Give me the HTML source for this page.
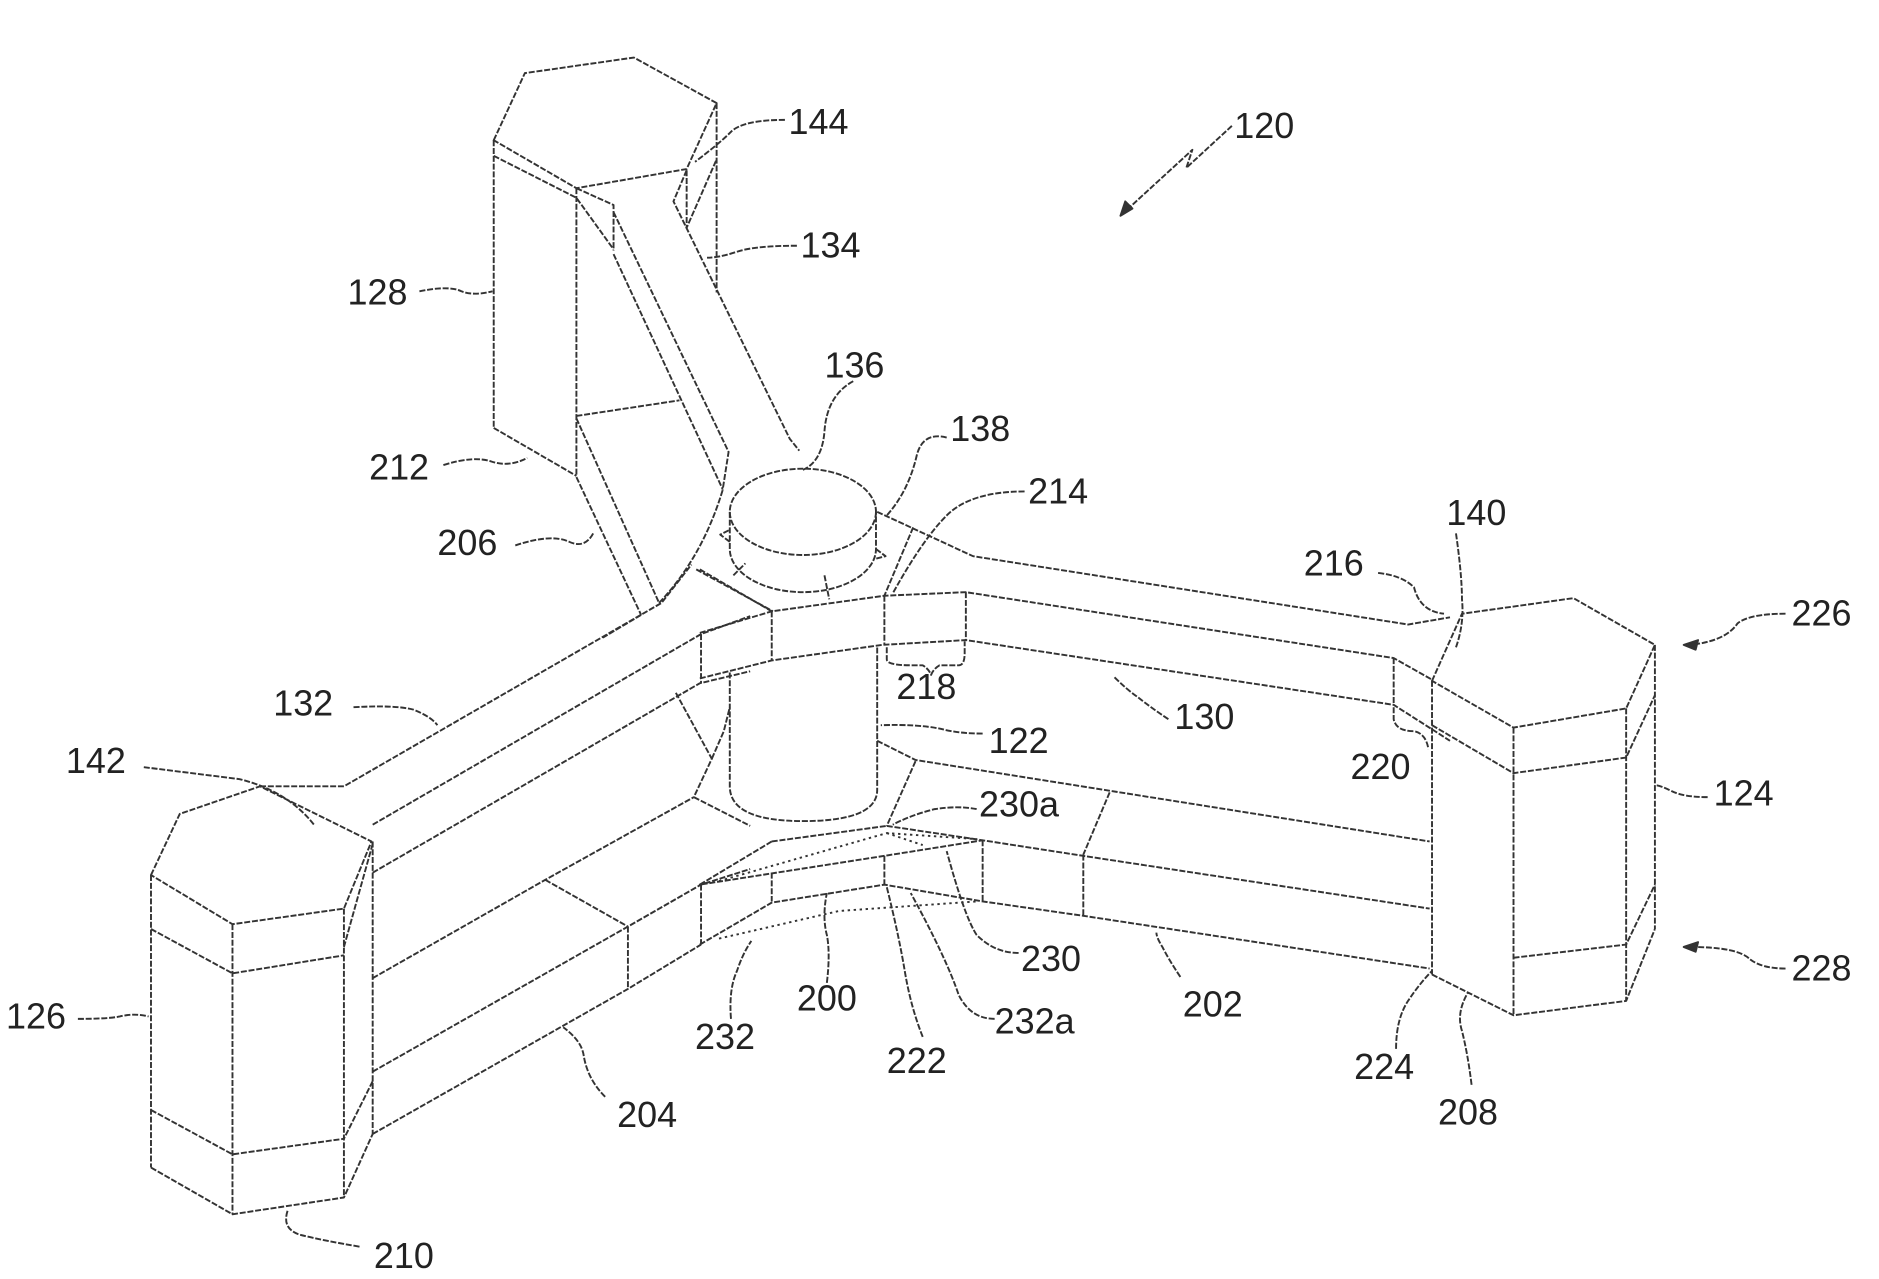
<!DOCTYPE html>
<html><head><meta charset="utf-8"><style>
html,body{margin:0;padding:0;background:#fff;width:1879px;height:1279px;overflow:hidden}
svg{display:block}
text{font-family:"Liberation Sans",sans-serif;font-size:30px;fill:#222}
</style></head><body>
<svg width="1879" height="1279" viewBox="0 0 1568 1067" preserveAspectRatio="none" xmlns="http://www.w3.org/2000/svg">
<g fill="none" stroke="#333" stroke-width="1.6" stroke-dasharray="5 1.5" stroke-linejoin="round">
<!-- Top block 128 -->
<polygon points="412,117 438,61 529,48 598,86 573,141 481,157"/>
<line x1="412" y1="117" x2="412" y2="357"/>
<line x1="481" y1="157" x2="481" y2="397"/>
<line x1="598" y1="86" x2="598" y2="244"/>
<polyline points="412,130 481,165 512,208"/>
<polyline points="481,157 512,171 512,209"/>
<line x1="412" y1="357" x2="481" y2="397"/>
<line x1="481" y1="347" x2="567" y2="334"/>
<line x1="481" y1="398" x2="535" y2="513"/>
<line x1="481" y1="349" x2="550" y2="503"/>
<!-- arm 134 -->
<polyline points="512,177 608,377 603,409"/>
<line x1="512" y1="212" x2="603" y2="408"/>
<polyline points="573,142 562,168 659,366 667,376"/>
<polyline points="573,142 573,190 598,133"/>
<path d="M550,503 Q586,465 603,409"/>
<polyline points="581,475 645,510"/>
<polyline points="535,513 503,532"/>
<!-- hub cylinder top -->
<ellipse cx="670" cy="427" rx="61" ry="36"/>
<path d="M609,427 L609,458 A61,36 0 0 0 731,458 L731,427"/>
<path d="M609,452 l-8,-6 l8,-4" />
<path d="M731,458 l8,6 l-8,2" />
<line x1="612" y1="480" x2="622" y2="470"/>
<line x1="688" y1="480" x2="692" y2="500"/>
<polyline points="732,427 812,464 1175,521 1210,515"/>
<line x1="762" y1="440" x2="738" y2="497"/>
<!-- arm 130 -->
<polyline points="584,528 644,510 738,497 806,494 1163,549 1195,567"/>
<polyline points="584,566 644,551 736,538 806,534 1163,588 1210,618"/>
<line x1="806" y1="494" x2="806" y2="534"/>
<line x1="1163" y1="549" x2="1163" y2="588"/>
<line x1="738" y1="497" x2="738" y2="538"/>
<line x1="644" y1="510" x2="644" y2="551"/>
<polyline points="732,618 764,634 1193,702"/>
<line x1="764" y1="635" x2="740" y2="689"/>
<line x1="926" y1="661" x2="904" y2="713"/>
<polyline points="740,689 820,701 904,714 1193,758"/>
<polyline points="644,702 740,689"/>
<polyline points="644,702 584,738 738,714 820,701"/>
<line x1="820" y1="701" x2="820" y2="752"/>
<line x1="904" y1="713" x2="904" y2="764"/>
<line x1="644" y1="728" x2="644" y2="752"/>
<line x1="738" y1="714" x2="738" y2="738"/>
<polyline points="584,788 644,753 738,738 820,752 904,764 1193,808"/>
<polyline points="600,735 740,695 815,700" stroke-dasharray="2 3"/>
<polyline points="600,783 700,760 815,752" stroke-dasharray="2 3"/>
<polyline points="740,695 770,705" stroke-dasharray="2 3"/>
<!-- lower cylinder 122 -->
<path d="M609,561 L609,656 Q609,685 670,685 Q732,685 732,659 L732,538"/>
<polyline points="584,475 644,510"/>
<polyline points="564,578 594,633 579,665"/>
<polyline points="594,633 604,610 609,590"/>
<polyline points="579,665 626,689"/>
<!-- arm 132 -->
<polyline points="217,656 287,656 552,503 577,471"/>
<polyline points="311,688 585,529 626,514"/>
<polyline points="311,728 584,570 626,560"/>
<line x1="585" y1="529" x2="585" y2="570"/>
<polyline points="311,816 455,734 579,665"/>
<line x1="455" y1="734" x2="524" y2="773"/>
<line x1="524" y1="773" x2="524" y2="824"/>
<polyline points="311,894 524,773 585,738 626,725"/>
<polyline points="311,946 524,825 585,788"/>
<line x1="585" y1="738" x2="585" y2="788"/>
<!-- left block 126 -->
<polygon points="126,730 150,679 217,656 310,702 287,758 194,771"/>
<line x1="126" y1="730" x2="126" y2="974"/>
<line x1="194" y1="771" x2="194" y2="1013"/>
<line x1="287" y1="758" x2="287" y2="999"/>
<line x1="311" y1="702" x2="311" y2="946"/>
<polyline points="126,775 194,812 287,797"/>
<line x1="311" y1="704" x2="287" y2="790"/>
<polyline points="126,926 194,963 287,950"/>
<line x1="311" y1="902" x2="287" y2="950"/>
<polyline points="126,974 194,1013 287,999 311,946"/>
<!-- right block 124 -->
<polygon points="1195,568 1220,512 1313,499 1381,538 1357,591 1263,607"/>
<line x1="1195" y1="568" x2="1195" y2="813"/>
<line x1="1263" y1="607" x2="1263" y2="847"/>
<line x1="1357" y1="591" x2="1357" y2="835"/>
<line x1="1381" y1="538" x2="1381" y2="775"/>
<polyline points="1195,605 1263,645 1357,632 1381,580"/>
<polyline points="1263,799 1357,788 1381,738"/>
<polyline points="1195,813 1263,847 1357,835 1381,775"/>
<!-- leaders -->
<path d="M655,100 Q620,100 610,110 Q600,120 580,135"/>
<path d="M665,205 Q630,205 615,210 Q600,215 590,215"/>
<path d="M350,243 Q375,238 385,243 Q395,247 411,243"/>
<path d="M712,318 Q690,330 688,360 Q686,385 670,392"/>
<path d="M790,365 Q770,360 765,380 Q758,410 740,430"/>
<path d="M855,410 Q810,410 790,430 Q770,450 745,495"/>
<path d="M370,388 Q395,380 410,385 Q425,390 440,382"/>
<path d="M430,455 Q460,445 475,452 Q488,458 495,445"/>
<path d="M1215,445 Q1220,480 1220,500 Q1222,520 1215,540"/>
<path d="M1150,478 Q1170,480 1180,490 Q1185,510 1205,512"/>
<path d="M1490,512 Q1460,512 1450,520 Q1440,535 1410,538"/>
<path d="M1405,538 l12,-4 l-2,8 z" stroke-dasharray="none" fill="#333"/>
<path d="M740,540 L740,550 Q740,555 760,555 L770,555 Q775,558 777,563 Q779,558 784,555 L800,555 Q805,555 805,545 L805,535"/>
<path d="M975,600 Q960,590 950,582 Q940,575 930,565"/>
<path d="M295,590 Q330,588 345,592 Q360,598 365,605"/>
<path d="M820,612 Q800,612 785,608 Q765,604 735,605"/>
<path d="M1163,590 L1163,600 Q1165,610 1180,610 Q1190,612 1192,625"/>
<path d="M120,640 Q160,645 200,650 Q240,660 262,688"/>
<path d="M1425,665 Q1405,665 1395,660 Q1385,655 1381,655"/>
<path d="M815,675 Q800,672 780,675 Q760,680 745,688"/>
<path d="M850,795 Q830,795 815,780 Q805,765 790,710"/>
<path d="M1490,808 Q1470,808 1460,800 Q1450,790 1410,790"/>
<path d="M1405,790 l12,-4 l-2,8 z" stroke-dasharray="none" fill="#333"/>
<path d="M65,850 Q90,850 100,848 Q112,845 124,848"/>
<path d="M690,820 Q693,795 690,780 Q686,765 690,745"/>
<path d="M985,815 Q975,800 970,790 Q965,782 965,778"/>
<path d="M610,850 Q608,825 615,810 Q620,795 627,785"/>
<path d="M830,850 Q810,850 800,830 Q790,800 760,745"/>
<path d="M770,865 Q760,840 755,810 Q750,780 740,740"/>
<path d="M1165,875 Q1165,850 1175,835 Q1185,820 1195,810"/>
<path d="M1228,905 Q1225,880 1220,860 Q1215,845 1225,828"/>
<path d="M505,915 Q490,900 487,880 Q485,868 470,857"/>
<path d="M300,1040 Q270,1035 250,1030 Q235,1025 240,1010"/>
<path d="M1028,105 L990,140 L995,125 L935,180"/>
<path d="M935,180 l4,-12 l6,6 z" stroke-dasharray="none" fill="#333"/>
</g>
<g>
<text x="658" y="112">144</text>
<text x="1030" y="115">120</text>
<text x="668" y="215">134</text>
<text x="290" y="254">128</text>
<text x="688" y="315">136</text>
<text x="793" y="368">138</text>
<text x="858" y="420">214</text>
<text x="308" y="400">212</text>
<text x="365" y="463">206</text>
<text x="1207" y="438">140</text>
<text x="1088" y="480">216</text>
<text x="1495" y="522">226</text>
<text x="748" y="583">218</text>
<text x="980" y="608">130</text>
<text x="228" y="597">132</text>
<text x="825" y="628">122</text>
<text x="1127" y="650">220</text>
<text x="55" y="645">142</text>
<text x="1430" y="672">124</text>
<text x="817" y="681">230a</text>
<text x="852" y="810">230</text>
<text x="1495" y="818">228</text>
<text x="5" y="858">126</text>
<text x="665" y="843">200</text>
<text x="987" y="848">202</text>
<text x="580" y="875">232</text>
<text x="830" y="862">232a</text>
<text x="740" y="895">222</text>
<text x="1130" y="900">224</text>
<text x="1200" y="938">208</text>
<text x="515" y="940">204</text>
<text x="312" y="1058">210</text>
</g>
</svg>
</body></html>
